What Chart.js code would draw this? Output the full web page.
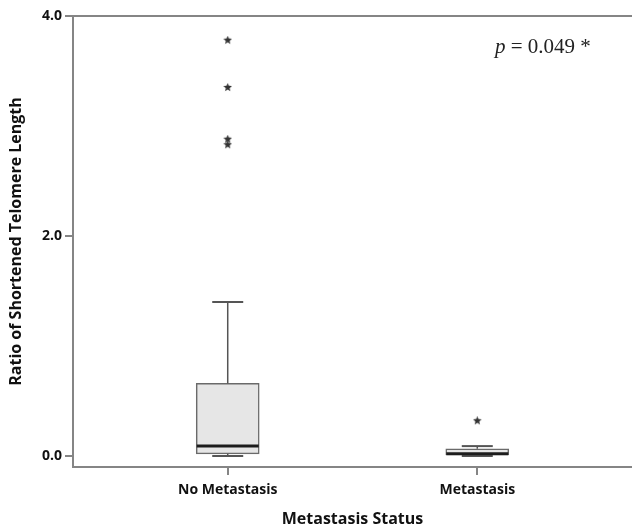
<!DOCTYPE html>
<html>
<head>
<meta charset="utf-8">
<script src="https://cdn.jsdelivr.net/npm/chart.js@4/dist/chart.umd.min.js"></script>
<style>
  html, body { margin: 0; padding: 0; background: #fff; overflow: hidden; }
  #wrap { width: 632px; height: 529px; position: relative; }
  #note {
    position: absolute; left: 495px; top: 36px;
    font: 21px/21px "Liberation Serif", serif; color: #222; white-space: nowrap;
  }
</style>
</head>
<body>
<div id="wrap">
  <canvas id="box-chart"></canvas>
  <div id="note"><i>p</i> = 0.049 *</div>
</div>
<script>
const groups = ['No Metastasis', 'Metastasis'];
const groupPos = [1, 2];
const whiskerLow = [0.0, 0.0];
const q1 = [0.02, 0.0];
const median = [0.09, 0.02];
const q3 = [0.66, 0.065];
const whiskerHigh = [1.40, 0.09];
const outliers = [[3.78, 3.35, 2.88, 2.83], [0.32]];
const yTicks = [0, 2, 4];

const axisGray = '#858585';
const labelFont = { family: 'Open Sans', size: 14, weight: 'bold' };
const titleFont = { family: 'Open Sans', size: 16, weight: 'bold' };

// small filled star used for outlier points
function makeStar(size, color) {
    const c = document.createElement('canvas');
    c.width = size;
    c.height = size;
    const ctx = c.getContext('2d');
    const cx = size / 2, cy = size / 2, ro = size / 2, ri = ro * 0.45;
    ctx.beginPath();
    for (let i = 0; i < 10; i++) {
        const r = i % 2 === 0 ? ro : ri;
        const a = -Math.PI / 2 + i * Math.PI / 5;
        ctx.lineTo(cx + r * Math.cos(a), cy + r * Math.sin(a));
    }
    ctx.closePath();
    ctx.fillStyle = color;
    ctx.fill();
    return c;
}

const boxData = groupPos.map((x, i) => ({ x: x, y: [q1[i], q3[i]] }));
const medianData = groupPos.map((x, i) => ({ x: x, y: median[i] }));
const whiskerData = [];
groupPos.forEach((x, i) => {
    whiskerData.push({ x: x, y: q3[i] }, { x: x, y: whiskerHigh[i] }, { x: x, y: null });
    whiskerData.push({ x: x, y: whiskerLow[i] }, { x: x, y: q1[i] }, { x: x, y: null });
});
const capData = [];
groupPos.forEach((x, i) => {
    capData.push({ x: x, y: whiskerHigh[i] }, { x: x, y: whiskerLow[i] });
});
const outlierData = [];
groupPos.forEach((x, i) => {
    outliers[i].forEach(v => outlierData.push({ x: x, y: v }));
});

new Chart(document.querySelector('#box-chart'), {
    type: 'bar',
    data: {
        datasets: [
            {
                type: 'scatter',
                data: outlierData,
                pointStyle: makeStar(9, '#333'),
                order: 1
            },
            {
                type: 'scatter',
                data: medianData,
                pointStyle: 'line',
                pointRadius: 31,
                borderColor: '#1c1c1c',
                borderWidth: 3,
                order: 2
            },
            {
                type: 'scatter',
                data: capData,
                pointStyle: 'line',
                pointRadius: 15.5,
                borderColor: '#555',
                borderWidth: 2,
                order: 3
            },
            {
                type: 'line',
                data: whiskerData,
                borderColor: '#555',
                borderWidth: 1.5,
                pointRadius: 0,
                spanGaps: false,
                order: 4
            },
            {
                data: boxData,
                backgroundColor: '#e6e6e6',
                borderColor: '#6a6a6a',
                borderWidth: 1.5,
                borderSkipped: false,
                barThickness: 63,
                order: 5
            }
        ]
    },
    options: {
        responsive: true,
        maintainAspectRatio: false,
        animation: false,
        events: [],
        layout: { autoPadding: false, padding: { top: 16, right: 0, left: 0, bottom: 0 } },
        plugins: {
            legend: { display: false },
            tooltip: { enabled: false }
        },
        scales: {
            x: {
                type: 'linear',
                offset: false,
                min: 0.38,
                max: 2.62,
                afterBuildTicks: scale => {
                    scale.ticks = groupPos.map(v => ({ value: v }));
                },
                afterFit: scale => { scale.height = 62; },
                ticks: {
                    callback: v => groups[groupPos.indexOf(v)],
                    font: labelFont,
                    color: '#111',
                    padding: 7,
                    maxRotation: 0
                },
                grid: {
                    offset: false,
                    drawOnChartArea: false,
                    tickLength: 8,
                    tickColor: axisGray,
                    lineWidth: 2
                },
                border: { color: axisGray, width: 2 },
                title: {
                    display: true,
                    text: 'Metastasis Status',
                    font: titleFont,
                    color: '#111',
                    padding: { top: 0, bottom: 0 }
                }
            },
            // top frame line only
            xTop: {
                type: 'linear',
                position: 'top',
                offset: false,
                min: 0.38,
                max: 2.62,
                afterFit: scale => { scale.height = 0; },
                ticks: { display: false },
                grid: { display: false, lineWidth: 2 },
                border: { color: axisGray, width: 2 }
            },
            y: {
                min: -0.1,
                max: 4.0,
                afterBuildTicks: scale => {
                    scale.ticks = yTicks.map(v => ({ value: v }));
                },
                afterFit: scale => { scale.width = 73; },
                ticks: {
                    callback: v => v.toFixed(1),
                    font: labelFont,
                    color: '#111',
                    padding: 3
                },
                grid: {
                    drawOnChartArea: false,
                    tickLength: 8,
                    tickColor: axisGray,
                    lineWidth: 2
                },
                border: { color: axisGray, width: 2 },
                title: {
                    display: true,
                    text: 'Ratio of Shortened Telomere Length',
                    font: titleFont,
                    color: '#111',
                    padding: { top: 7, bottom: 0 }
                }
            }
        }
    }
});
</script>
</body>
</html>
